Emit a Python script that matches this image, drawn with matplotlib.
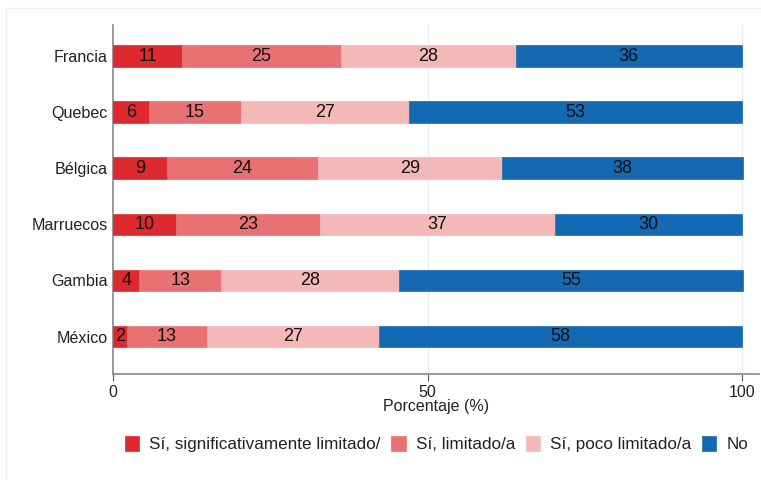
import matplotlib
matplotlib.use("Agg")
import matplotlib.pyplot as plt
from matplotlib.patches import Rectangle
import numpy as np

plt.rcParams['font.family'] = ['Liberation Sans', 'DejaVu Sans']

categories = ["Francia", "Quebec", "Bélgica", "Marruecos", "Gambia", "México"]
series_names = ["Sí, significativamente limitado/", "Sí, limitado/a",
                "Sí, poco limitado/a", "No"]
sig_limitado = [11.0, 5.7, 8.6, 10.0, 4.2, 2.3]
limitado = [25.2, 14.6, 24.0, 22.9, 13.0, 12.6]
poco_limitado = [27.8, 26.8, 29.3, 37.4, 28.3, 27.4]
no_values = [36.0, 52.9, 38.2, 29.7, 54.6, 57.7]
xticks = [0, 50, 100]

colors = ["#dc2a2f", "#e87273", "#f3b8b8", "#1569b3"]
series = [sig_limitado, limitado, poco_limitado, no_values]

fig = plt.figure(figsize=(7.61, 4.80), dpi=100)
fig.patches.append(Rectangle((6 / 761, -0.01), 1.0, 1 - 8 / 480 + 0.01,
                             transform=fig.transFigure, fill=False,
                             edgecolor="#eeeeee", linewidth=1.0))
ax = fig.add_axes([113 / 761, 106 / 480, (759 - 113) / 761, (374 - 25) / 480])

n = len(categories)
y = np.arange(n)[::-1]
left = np.zeros(n)
for name, vals, c in zip(series_names, series, colors):
    vals = np.array(vals)
    bars = ax.barh(y, vals, left=left, height=0.385, color=c, label=name,
                   edgecolor=c, linewidth=0.5, zorder=3)
    ax.bar_label(bars, labels=[f"{v:.0f}" for v in vals], label_type="center",
                 fontsize=13, color="#111111")
    left += vals

ax.set_xlim(0, 102.7)
ax.set_ylim(-0.668, 5.553)
ax.set_yticks(y)
ax.set_yticklabels(categories, fontsize=11.6, color="#222222")
ax.tick_params(axis="y", length=0, pad=4)
ax.set_xticks(xticks)
ax.set_xticklabels([str(t) for t in xticks], fontsize=11.5, color="#222222")
ax.tick_params(axis="x", length=5, width=0.8, color="#555555", pad=3)
ax.set_xlabel("Porcentaje (%)", fontsize=11.5, color="#222222", labelpad=-1)

for x in [50, 100]:
    ax.axvline(x, color="#e6eef2", linewidth=1.0, zorder=1)

for s in ["top", "right"]:
    ax.spines[s].set_visible(False)
for s in ["left", "bottom"]:
    ax.spines[s].set_color("#888888")
    ax.spines[s].set_linewidth(1.2)

fig.legend(loc="center", bbox_to_anchor=(436.5 / 761, 1 - 444 / 480), ncol=4,
           frameon=False, fontsize=12.3, handlelength=0.85, handleheight=1.0,
           handletextpad=0.6, columnspacing=0.6, labelcolor="#222222")

fig.savefig("out.png", dpi=100)
